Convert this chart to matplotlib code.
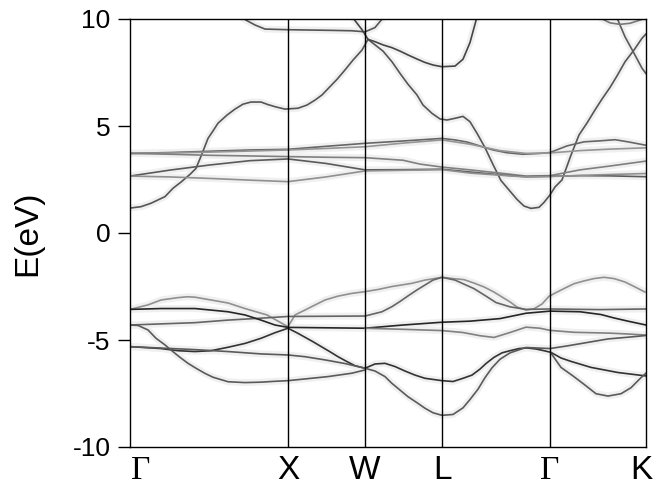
import matplotlib
matplotlib.use("Agg")
import matplotlib.pyplot as plt
from matplotlib.transforms import ScaledTranslation

plt.rcParams['font.family'] = ['Liberation Sans', 'DejaVu Sans']

# ---- path / tick data ----
kpath_ticks = [0, 158, 235, 312, 420, 516]
kpath_labels = ['Γ', 'X', 'W', 'L', 'Γ', 'K']
yticks = [-10, -5, 0, 5, 10]

# ---- bands: (k, E[eV]) ----
s_band = [(1, 1.17), (11, 1.23), (21, 1.39), (35, 1.70), (43, 2.09), (51, 2.38), (60, 2.74), (66, 3.02),
          (72, 3.7), (78, 4.42), (83, 4.77), (88, 5.13), (97, 5.51), (105, 5.79), (113, 6.02), (121, 6.12),
          (131, 6.12), (138, 6.0), (146, 5.89), (155, 5.79), (168, 5.83), (177, 5.98), (185, 6.21),
          (192, 6.45), (200, 6.84), (207, 7.18), (215, 7.62), (223, 8.08), (232, 8.55), (238, 9.05),
          (253, 8.5), (262, 8.0), (270, 7.46), (278, 6.95), (287, 6.45), (293, 5.98), (302, 5.59),
          (310, 5.33), (317, 5.28), (325, 5.36), (333, 5.45), (340, 5.2), (347, 4.66), (355, 3.99),
          (363, 3.2), (371, 2.45), (379, 2.01), (387, 1.57), (394, 1.26), (401, 1.15), (409, 1.2),
          (414, 1.43), (420, 1.78), (425, 2.15), (432, 2.48), (441, 3.64), (449, 4.58), (457, 5.14),
          (465, 5.75), (472, 6.26), (480, 6.8), (487, 7.34), (495, 8.0), (504, 8.55), (512, 9.1), (516, 9.3)]
t_flat = [(112, 10.05), (125, 9.72), (135, 9.53), (158, 9.5), (200, 9.47), (222, 9.45), (235, 9.4),
          (245, 9.6), (253, 10.05)]
t_down = [(223, 10.05), (232, 9.5), (238, 9.05), (245, 8.94), (253, 8.79), (262, 8.66), (270, 8.5),
          (278, 8.32), (287, 8.13), (295, 7.97), (303, 7.85), (312, 7.77), (325, 7.80), (333, 8.12),
          (340, 8.9), (347, 10.1)]
t_k1 = [(487, 10.05), (495, 9.17), (504, 8.4), (512, 7.7), (516, 7.45)]
t_k2 = [(470, 10.05), (480, 9.82), (490, 9.75), (500, 9.8), (510, 9.95), (516, 10.05)]

cd1 = [(0, 3.72), (40, 3.76), (80, 3.82), (120, 3.88), (158, 3.91), (196, 4.05), (235, 4.19), (273, 4.3),
       (312, 4.42), (325, 4.35), (337, 4.25), (347, 4.11), (355, 3.99), (363, 3.88), (377, 3.75),
       (393, 3.68), (410, 3.72), (420, 3.76), (437, 4.07), (454, 4.26), (471, 4.31), (485, 4.36),
       (498, 4.26), (516, 4.10)]
cd5 = [(0, 3.72), (40, 3.74), (80, 3.78), (120, 3.83), (158, 3.88), (196, 3.95), (235, 4.03), (273, 4.2),
       (312, 4.35), (340, 4.15), (370, 3.85), (396, 3.72), (420, 3.74), (450, 3.85), (480, 3.92), (516, 3.98)]
cd2 = [(0, 3.72), (40, 3.68), (80, 3.63), (120, 3.6), (158, 3.57), (196, 3.54), (235, 3.52), (273, 3.4),
       (290, 3.22), (312, 3.08), (340, 2.95), (370, 2.8), (396, 2.66), (420, 2.68), (450, 2.95),
       (480, 3.13), (516, 3.36)]
cd3 = [(0, 2.66), (40, 2.94), (80, 3.18), (120, 3.38), (158, 3.46), (196, 3.25), (235, 2.95), (273, 2.96),
       (312, 2.98), (340, 2.85), (370, 2.72), (396, 2.63), (420, 2.65), (450, 2.68), (480, 2.67), (516, 2.63)]
cd4 = [(0, 2.66), (40, 2.62), (80, 2.55), (120, 2.47), (158, 2.40), (196, 2.62), (235, 2.90), (273, 2.93),
       (312, 2.96), (340, 2.8), (370, 2.7), (396, 2.62), (420, 2.64), (470, 2.72), (516, 2.78)]

v_top = [(0, -3.57), (18, -3.36), (31, -3.13), (48, -3.02), (57, -2.98), (65, -3.0), (81, -3.13),
         (98, -3.27), (115, -3.53), (137, -3.83), (158, -4.38), (165, -3.83), (175, -3.6), (183, -3.41),
         (195, -3.13), (208, -2.95), (222, -2.82), (235, -2.74), (248, -2.64), (262, -2.5), (282, -2.35),
         (295, -2.2), (312, -2.07), (323, -2.13), (334, -2.18), (344, -2.34), (354, -2.52), (364, -2.76),
         (372, -2.99), (380, -3.22), (387, -3.46), (396, -3.6), (404, -3.54), (412, -3.32), (419, -2.96),
         (427, -2.76), (436, -2.55), (444, -2.37), (454, -2.24), (464, -2.13), (474, -2.07), (484, -2.13),
         (495, -2.29), (505, -2.52), (515, -2.76)]
v_flat = [(0, -4.30), (65, -4.19), (98, -4.07), (131, -3.98), (158, -3.9), (196, -3.89), (235, -3.88),
          (252, -3.68), (262, -3.44), (270, -3.2), (278, -2.94), (287, -2.66), (295, -2.43), (303, -2.2),
          (312, -2.07), (325, -2.2), (344, -2.6), (356, -2.95), (366, -3.25), (380, -3.45), (396, -3.57),
          (420, -3.55), (470, -3.58), (516, -3.55)]
v_dark1 = [(0, -3.57), (31, -3.53), (65, -3.53), (85, -3.62), (98, -3.68), (115, -3.83), (131, -4.07),
           (145, -4.30), (158, -4.41), (196, -4.43), (235, -4.45), (273, -4.3), (312, -4.17), (340, -4.12),
           (370, -4.0), (396, -3.75), (420, -3.65), (450, -3.68), (471, -3.81), (484, -3.97), (498, -4.12),
           (516, -4.3)]
v_extra = [(235, -4.45), (273, -4.5), (312, -4.56), (333, -4.65), (350, -4.8), (364, -4.88), (380, -4.65),
           (396, -4.4), (410, -4.45), (420, -4.55), (444, -4.64), (480, -4.68), (498, -4.72), (516, -4.77)]
v_low_dark = [(0, -5.31), (31, -5.4), (48, -5.50), (65, -5.54), (81, -5.5), (98, -5.34), (115, -5.16),
              (131, -4.92), (145, -4.66), (158, -4.45), (168, -4.69), (183, -5.08), (192, -5.33),
              (200, -5.55), (208, -5.78), (217, -6.01), (225, -6.2), (235, -6.32), (245, -6.12),
              (255, -6.09), (265, -6.24), (275, -6.45), (285, -6.64), (295, -6.79), (312, -6.9),
              (323, -6.94), (333, -6.79), (342, -6.64), (350, -6.36), (356, -6.1), (364, -5.81),
              (372, -5.6), (380, -5.50), (389, -5.4), (397, -5.37), (406, -5.42), (414, -5.5),
              (421, -5.58), (431, -5.84), (441, -6.0), (461, -6.28), (488, -6.52), (516, -6.68)]
v_low_flat = [(0, -5.31), (65, -5.45), (98, -5.54), (131, -5.65), (158, -5.70), (175, -5.78), (195, -5.93),
              (215, -6.1), (235, -6.32), (245, -6.45), (255, -6.71), (262, -7.03), (270, -7.34),
              (278, -7.65), (287, -7.93), (295, -8.19), (303, -8.40), (312, -8.52), (323, -8.48),
              (333, -8.17), (340, -7.78), (348, -7.30), (355, -6.76), (362, -6.3), (370, -5.9),
              (380, -5.6), (396, -5.35), (410, -5.38), (420, -5.4), (438, -5.27), (458, -5.11),
              (478, -4.95), (498, -4.87), (516, -4.79)]
v_steep = [(0, -4.30), (8, -4.32), (18, -4.53), (26, -4.92), (35, -5.23), (41, -5.47), (50, -5.81),
           (58, -6.09), (66, -6.32), (75, -6.56), (83, -6.74), (98, -6.95), (115, -6.99), (131, -6.97),
           (145, -6.93), (158, -6.90), (175, -6.82), (198, -6.71), (222, -6.55), (235, -6.40)]
v_arc = [(420, -5.55), (431, -6.28), (443, -6.68), (454, -7.07), (466, -7.51), (478, -7.62), (491, -7.51),
         (501, -7.23), (511, -6.76), (516, -6.55)]

bands = [
    (s_band, '#555555'), (t_flat, '#555555'), (t_down, '#454545'), (t_k1, '#5a5a5a'), (t_k2, '#777777'),
    (cd1, '#666666'), (cd5, '#959595'), (cd2, '#808080'), (cd3, '#5a5a5a'), (cd4, '#909090'),
    (v_top, '#909090'), (v_flat, '#656565'), (v_dark1, '#262626'), (v_extra, '#808080'),
    (v_low_dark, '#333333'), (v_low_flat, '#5a5a5a'), (v_steep, '#5a5a5a'), (v_arc, '#5a5a5a'),
]

fig = plt.figure(figsize=(6.64, 4.91), dpi=100)
ax = fig.add_axes([130 / 664, 44 / 491, 516 / 664, 428 / 491])

for pts, col in bands:
    ks = [p[0] for p in pts]
    es = [p[1] for p in pts]
    ax.plot(ks, es, color='#f0f0f0', lw=5.0, solid_capstyle='butt', zorder=1)
for pts, col in bands:
    ks = [p[0] for p in pts]
    es = [p[1] for p in pts]
    ax.plot(ks, es, color=col, lw=1.2, zorder=2)

for kv in kpath_ticks[1:-1]:
    ax.axvline(kv, color='black', lw=1.0, zorder=3)

ax.set_xlim(kpath_ticks[0], kpath_ticks[-1])
ax.set_ylim(-10, 10)
ax.set_yticks(yticks)
ax.set_yticklabels([str(v) for v in yticks])
ax.tick_params(axis='y', length=9, width=1, pad=5, labelsize=19, direction='out')
ax.set_xticks(kpath_ticks)
ax.set_xticklabels(kpath_labels)
ax.tick_params(axis='x', length=0, pad=6, labelsize=24)
for sp in ax.spines.values():
    sp.set_linewidth(1.0)
    sp.set_zorder(4)

offsets = [11, 0, 0, 1, 0, -5]
for lab, txt, dx in zip(ax.get_xticklabels(), kpath_labels, offsets):
    if txt == 'Γ':
        lab.set_fontfamily(['Liberation Serif', 'DejaVu Serif'])
    lab.set_transform(lab.get_transform() + ScaledTranslation(dx / 100, 0, fig.dpi_scale_trans))

fig.text(28 / 664, 1 - 233 / 491, 'E(eV)', rotation=90, va='center', ha='center', fontsize=24)

fig.savefig('out.png', dpi=100)
